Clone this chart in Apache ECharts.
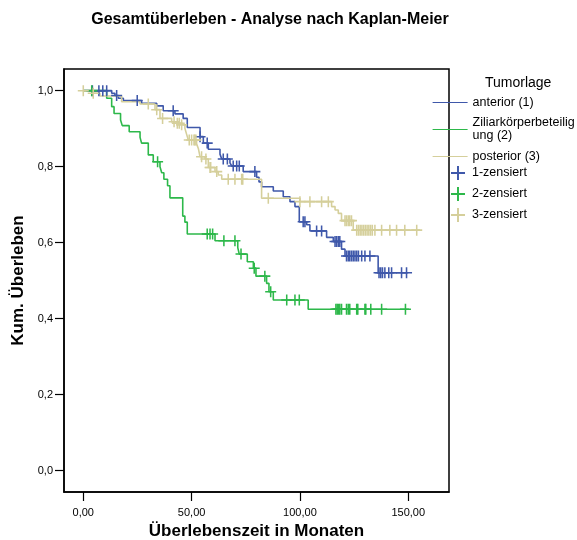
<!DOCTYPE html>
<html>
<head>
<meta charset="utf-8">
<script src="https://cdn.jsdelivr.net/npm/echarts@6/dist/echarts.min.js"></script>
<style>
html, body { margin: 0; padding: 0; background: #fff; }
#main { width: 577px; height: 540px; }
</style>
</head>
<body>
<div id="main"></div>
<script>
// Kaplan-Meier Stufen: Zeitpunkt (Monate) und Überlebensrate danach
let anteriorTime = [0, 13.1, 14.6, 16.2, 18.5, 26.9, 33.9, 36.9, 42.3, 46.1, 48.0, 53.9, 55.4, 57.7, 63.1, 63.9, 67.7, 68.5, 73.8, 80.0, 81.1, 82.3, 87.7, 92.3, 95.4, 97.7, 99.7, 103.1, 104.6, 112.3, 115.4, 119.2, 120.8, 136.1, 150.0];
let anteriorSurv = [1.0, 0.993, 0.987, 0.980, 0.974, 0.967, 0.960, 0.947, 0.939, 0.927, 0.903, 0.879, 0.862, 0.846, 0.833, 0.820, 0.810, 0.802, 0.787, 0.772, 0.760, 0.747, 0.736, 0.721, 0.708, 0.695, 0.655, 0.647, 0.631, 0.614, 0.603, 0.583, 0.565, 0.521, 0.521];
let anteriorCens = [4.2, 7.2, 9.0, 10.8, 15.4, 24.9, 41.5, 53.9, 57.2, 64.6, 66.5, 69.2, 70.8, 72.0, 79.2, 101.5, 102.3, 107.7, 110.0, 116.2, 116.9, 117.7, 118.4, 121.5, 122.3, 123.0, 123.8, 124.6, 125.4, 126.2, 127.0, 128.5, 130.0, 132.3, 136.5, 137.3, 138.1, 139.2, 141.0, 142.3, 146.9, 149.2];

let ziliarTime = [0, 10.8, 13.1, 14.2, 17.2, 18.0, 21.2, 26.2, 26.9, 30.0, 32.3, 35.4, 36.2, 37.2, 38.9, 40.0, 45.9, 46.9, 48.0, 60.8, 71.3, 72.0, 75.7, 78.5, 79.7, 84.6, 85.7, 87.7, 103.8, 150.3];
let ziliarSurv = [1.0, 0.980, 0.958, 0.940, 0.923, 0.908, 0.892, 0.877, 0.862, 0.831, 0.813, 0.800, 0.784, 0.767, 0.750, 0.718, 0.670, 0.654, 0.623, 0.605, 0.587, 0.570, 0.550, 0.533, 0.512, 0.493, 0.471, 0.449, 0.425, 0.425];
let ziliarCens = [3.9, 34.3, 57.2, 58.5, 59.7, 64.9, 70.0, 72.8, 78.9, 83.8, 86.5, 93.9, 97.7, 99.7, 116.6, 117.2, 117.8, 118.4, 119.2, 121.5, 122.3, 123.0, 126.2, 126.7, 130.0, 130.4, 132.7, 137.7, 148.7];

let posteriorTime = [0, 3.9, 7.7, 17.7, 26.2, 33.1, 35.4, 40.8, 42.3, 44.6, 46.9, 47.7, 48.5, 52.3, 53.1, 53.9, 56.2, 57.7, 60.8, 62.3, 63.9, 82.3, 100.0, 114.6, 116.2, 117.7, 119.2, 124.6, 155.4];
let posteriorSurv = [1.0, 0.993, 0.986, 0.971, 0.965, 0.950, 0.927, 0.918, 0.914, 0.910, 0.901, 0.885, 0.870, 0.860, 0.848, 0.826, 0.820, 0.798, 0.787, 0.778, 0.767, 0.717, 0.708, 0.695, 0.686, 0.677, 0.658, 0.633, 0.633];
let posteriorCens = [0, 4.6, 30.0, 33.9, 36.6, 41.9, 43.4, 44.3, 45.4, 48.9, 50.0, 51.1, 51.5, 52.0, 54.6, 56.6, 58.5, 58.8, 61.6, 66.9, 70.0, 73.1, 73.6, 85.4, 100.0, 104.6, 110.0, 113.1, 120.8, 121.5, 122.3, 123.0, 123.8, 126.2, 127.0, 127.8, 128.6, 129.4, 130.2, 131.0, 131.8, 132.6, 133.4, 134.6, 137.7, 141.5, 144.6, 148.4, 153.9];

let groupNames = ['anterior (1)', 'Ziliarkörperbeteilig\nung (2)', 'posterior (3)'];
let censNames = ['1-zensiert', '2-zensiert', '3-zensiert'];
let xTicks = [0, 50, 100, 150];
let yTicks = [0, 0.2, 0.4, 0.6, 0.8, 1.0];

let colors = ['#3f58aa', '#2db84a', '#d5cf9b'];
let font = "'Liberation Sans', Arial, sans-serif";
let cross = 'path://M0,4.3H10V5.7H0Z M4.3,0H5.7V10H4.3Z';

function steps(times, surv) {
    return times.map(function (t, i) { return [t, surv[i]]; });
}
// Wert der Stufenfunktion zum Zeitpunkt t
function survAt(times, surv, t) {
    let s = surv[0];
    for (let i = 0; i < times.length; i++) {
        if (times[i] <= t) s = surv[i];
    }
    return s;
}
function censPoints(times, surv, cens) {
    return cens.map(function (t) { return [t, survAt(times, surv, t)]; });
}

let groups = [
    [anteriorTime, anteriorSurv, anteriorCens],
    [ziliarTime, ziliarSurv, ziliarCens],
    [posteriorTime, posteriorSurv, posteriorCens]
];

let series = [];
groups.forEach(function (g, i) {
    series.push({
        name: groupNames[i],
        type: 'line',
        step: 'end',
        symbol: 'none',
        data: steps(g[0], g[1]),
        lineStyle: { color: colors[i], width: 1.6 },
        itemStyle: { color: colors[i] },
        silent: true,
        z: 3
    });
});
groups.forEach(function (g, i) {
    series.push({
        name: censNames[i],
        type: 'scatter',
        symbol: cross,
        symbolSize: 11,
        data: censPoints(g[0], g[1], g[2]),
        itemStyle: { color: colors[i], opacity: 1 },
        silent: true,
        z: 4
    });
});

let myChart = echarts.init(document.getElementById('main'));

let option = {
    animation: false,
    textStyle: { fontFamily: font },
    title: [
        {
            text: 'Gesamtüberleben - Analyse nach Kaplan-Meier',
            left: 270, top: 12, textAlign: 'center', padding: 0,
            textStyle: { fontFamily: font, fontSize: 16, fontWeight: 'bold', color: '#000' }
        },
        {
            text: 'Tumorlage',
            left: 485, top: 76, padding: 0,
            textStyle: { fontFamily: font, fontSize: 14, fontWeight: 'normal', color: '#000' }
        }
    ],
    legend: [
        {
            data: groupNames,
            orient: 'vertical',
            left: 432, top: 96, padding: 0,
            itemWidth: 35, itemHeight: 14, itemGap: 7.5,
            selectedMode: false,
            itemStyle: { opacity: 0 },
            lineStyle: { width: 1.2 },
            textStyle: { fontFamily: font, fontSize: 12.5, color: '#000', lineHeight: 13 }
        },
        {
            data: censNames,
            orient: 'vertical',
            left: 451, top: 166, padding: 0,
            itemWidth: 14, itemHeight: 14, itemGap: 7,
            selectedMode: false,
            textStyle: { fontFamily: font, fontSize: 12.5, color: '#000', padding: [0, 0, 0, 2] }
        }
    ],
    grid: {
        left: 64, top: 69, right: 128, bottom: 48,
        show: true, borderColor: '#000', borderWidth: 1.5,
        containLabel: false,
        outerBoundsMode: 'none'
    },
    xAxis: {
        type: 'value',
        min: -8.9, max: 168.8,
        name: 'Überlebenszeit in Monaten',
        nameLocation: 'middle',
        nameGap: 29,
        nameTextStyle: { fontFamily: font, fontSize: 17, fontWeight: 'bold', color: '#000' },
        axisLine: { show: true, onZero: false, lineStyle: { color: '#000', width: 1.5 } },
        axisTick: { show: true, length: 9, customValues: xTicks, lineStyle: { color: '#000', width: 1.2 } },
        axisLabel: {
            customValues: xTicks, margin: 15,
            fontFamily: font, fontSize: 11, color: '#000',
            formatter: function (v) { return v.toFixed(2).replace('.', ','); }
        },
        splitLine: { show: false }
    },
    yAxis: {
        type: 'value',
        min: -0.056, max: 1.057,
        name: 'Kum. Überleben',
        nameLocation: 'middle',
        nameGap: 37,
        nameTextStyle: { fontFamily: font, fontSize: 17, fontWeight: 'bold', color: '#000' },
        axisLine: { show: true, onZero: false, lineStyle: { color: '#000', width: 1.5 } },
        axisTick: { show: true, length: 9, customValues: yTicks, lineStyle: { color: '#000', width: 1.2 } },
        axisLabel: {
            customValues: yTicks, margin: 11,
            fontFamily: font, fontSize: 11, color: '#000',
            formatter: function (v) { return v.toFixed(1).replace('.', ','); }
        },
        splitLine: { show: false }
    },
    series: series
};

myChart.setOption(option, true);
</script>
</body>
</html>
